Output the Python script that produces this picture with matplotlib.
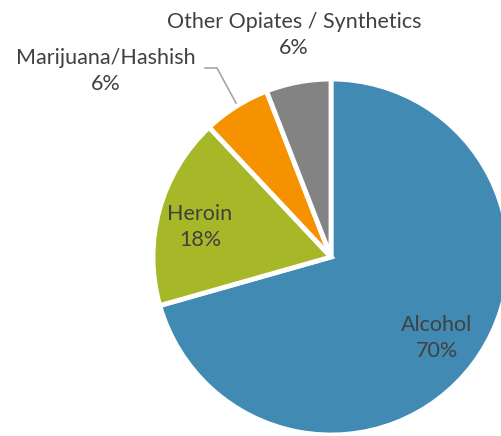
import matplotlib
matplotlib.use("Agg")
import matplotlib.pyplot as plt

categories = ["Alcohol", "Heroin", "Marijuana/Hashish", "Other Opiates / Synthetics"]
shares = [70.6, 17.4, 6.1, 5.9]
pct_labels = ["70%", "18%", "6%", "6%"]
colors = ["#418AB3", "#A6B727", "#F69200", "#838383"]

W, H = 502, 436
TEXT = "#404040"
plt.rcParams["font.family"] = ["Lato", "DejaVu Sans"]

fig = plt.figure(figsize=(W / 100, H / 100), dpi=100)
ax = fig.add_axes([0, 0, 1, 1])
ax.set_xlim(0, W)
ax.set_ylim(0, H)
ax.set_aspect("equal")
ax.axis("off")

ax.pie(shares, colors=colors, startangle=90, counterclock=False,
       center=(331, H - 257), radius=178,
       wedgeprops=dict(edgecolor="white", linewidth=3.5))
ax.set_xlim(0, W)
ax.set_ylim(0, H)

# label positions in pixel coordinates (y from top)
label_pos = [(437, 338), (200, 227), (106, 71), (294, 35)]
for name, pct, (x, y) in zip(categories, pct_labels, label_pos):
    ax.text(x, H - y, f"{name}\n{pct}", ha="center", va="center",
            fontsize=15.5, color=TEXT, linespacing=1.4)

# leader line for Marijuana/Hashish
ax.plot([205, 217, 236], [H - 68, H - 68, H - 103], color="#A6A6A6", lw=1.2)

fig.savefig("out.png", dpi=100)
